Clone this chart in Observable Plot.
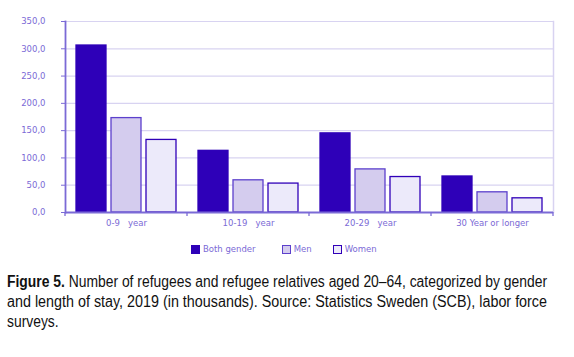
<!DOCTYPE html>
<html><head><meta charset="utf-8">
<script src="https://cdn.jsdelivr.net/npm/d3@7"></script>
<script src="https://cdn.jsdelivr.net/npm/@observablehq/plot@0.6"></script>
<style>
body{margin:0;background:#fff;}
#wrap{position:relative;width:574px;}
.leg{position:absolute;top:244px;font-family:"DejaVu Sans",sans-serif;font-size:8.5px;color:#7b6ad6;display:flex;align-items:center;white-space:nowrap;}
.leg span.sw{display:inline-block;width:7px;height:7px;margin-right:3px;}
.caption{font-family:"Liberation Sans",Arial,sans-serif;font-size:16px;line-height:20px;color:#111;margin-left:7px;margin-top:37px;width:540px;}
.caption div{white-space:nowrap;}
.caption span.ln{display:inline-block;transform-origin:0 0;}
</style></head>
<body><div id="wrap"></div>
<script>
const groups = ["0-9\u00a0\u00a0\u00a0year", "10-19\u00a0\u00a0\u00a0year", "20-29\u00a0\u00a0\u00a0year", "30 Year or longer"];
const series = ["Both gender", "Men", "Women"];
const both = [306, 113, 145, 66];
const men = [173, 59, 79, 37];
const women = [133, 53, 65, 26];
const yTicks = [0, 50, 100, 150, 200, 250, 300, 350];
const captionLines = [
  ["Figure 5.", " Number of refugees and refugee relatives aged 20\u201364, categorized by gender"],
  ["", "and length of stay, 2019 (in thousands). Source: Statistics Sweden (SCB), labor force"],
  ["", "surveys."]
];

const fills = {"Both gender": "#2e00b8", "Men": "#d4ccee", "Women": "#eceafa"};
const strokes = {"Both gender": "#2e00b8", "Men": "#5c40cc", "Women": "#3000b8"};
const seriesVals = [both, men, women];
const data = groups.flatMap((g, i) => series.map((s, j) => ({group: g, series: s, value: seriesVals[j][i]})));

const purple = "#7b6ad6";
const grid = "#d8d3f1";

const chart = Plot.plot({
  width: 574, height: 235,
  marginTop: 21, marginBottom: 23, marginLeft: 64, marginRight: 21,
  style: {fontFamily: "DejaVu Sans, sans-serif", fontSize: "8.5px", color: purple, background: "#fff", overflow: "visible"},
  color: {type: "identity"},
  fx: {domain: groups, padding: 0, label: null, axis: "bottom", tickSize: 0, tickPadding: 7},
  x: {domain: series, axis: null, paddingInner: 0.15, paddingOuter: 0.3},
  y: {domain: [0, 350], label: null, axis: null},
  marks: [
    Plot.ruleY(yTicks.filter(d => d > 0), {stroke: grid, strokeWidth: 1.2}),
    Plot.frame({anchor: "right", facetAnchor: "right", stroke: grid, strokeWidth: 1.5}),
    Plot.barY(data, {fx: "group", x: "series", y: "value",
      fill: d => fills[d.series], stroke: d => strokes[d.series], strokeWidth: 1.3}),
    Plot.ruleY([0], {stroke: purple, strokeWidth: 1.8}),
    Plot.axisY({ticks: yTicks, facetAnchor: "left", tickSize: 4, tickPadding: 16, stroke: purple, fill: purple,
      tickFormat: d => d.toFixed(1).replace(".", ","), label: null}),
    Plot.frame({anchor: "left", facetAnchor: "left", stroke: purple, strokeWidth: 1.8})
  ]
});

const wrap = document.getElementById("wrap");
wrap.appendChild(chart);

// boundary ticks below the category axis, placed with the fx scale
const fx = chart.scale("fx");
const ys = chart.scale("y");
const edges = groups.map(g => fx.apply(g)).concat([fx.apply(groups[groups.length - 1]) + fx.bandwidth]);
const y0 = ys.apply(0);
d3.select(chart).append("g").selectAll("line").data(edges).join("line")
  .attr("x1", d => d).attr("x2", d => d)
  .attr("y1", y0).attr("y2", y0 + 4)
  .attr("stroke", purple).attr("stroke-width", 1.3);

// legend
const legLeft = [191, 281.7, 332.7];
series.forEach((s, i) => {
  const item = document.createElement("div");
  item.className = "leg";
  item.style.left = legLeft[i] + "px";
  const sw = document.createElement("span");
  sw.className = "sw";
  sw.style.background = fills[s];
  sw.style.border = "1.2px solid " + strokes[s];
  item.appendChild(sw);
  item.appendChild(document.createTextNode(s));
  wrap.appendChild(item);
});

// caption: condensed look by horizontal scaling, full lines stretched to the column width
const cap = document.createElement("div");
cap.className = "caption";
wrap.appendChild(cap);
const spans = captionLines.map((ln) => {
  const d = document.createElement("div");
  const sp = document.createElement("span");
  sp.className = "ln";
  if (ln[0]) { const b = document.createElement("b"); b.textContent = ln[0]; sp.appendChild(b); }
  sp.appendChild(document.createTextNode(ln[1]));
  d.appendChild(sp);
  cap.appendChild(d);
  return sp;
});
const target = 540;
const s0 = target / spans[0].getBoundingClientRect().width;
spans.forEach((sp, i) => {
  const w = sp.getBoundingClientRect().width;
  const s = i < spans.length - 1 ? target / w : s0;
  sp.style.transform = `scaleX(${s})`;
});
</script>
</body></html>
